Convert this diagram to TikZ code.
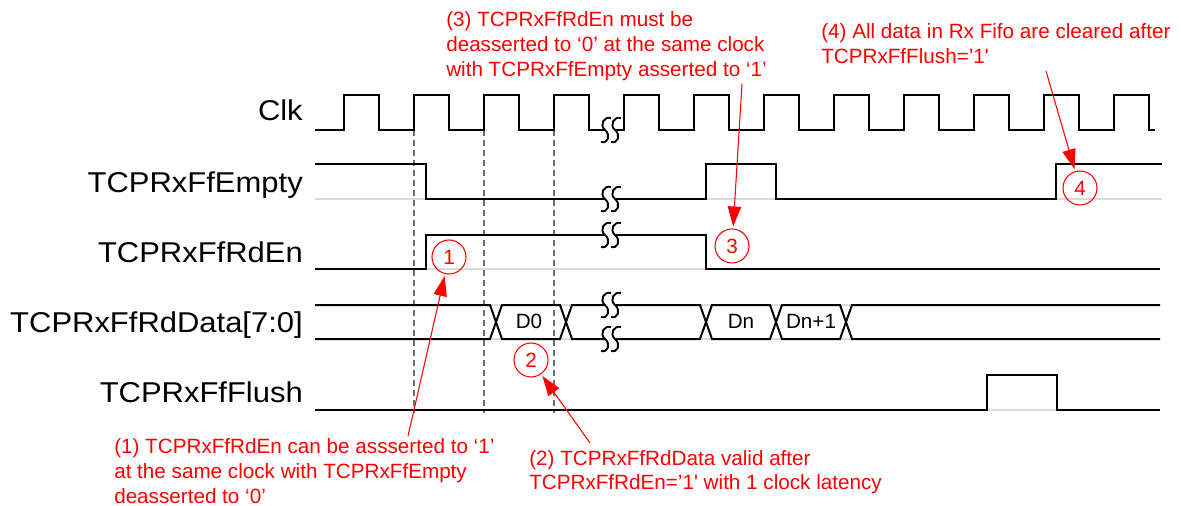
\documentclass[tikz,border=0pt]{standalone}
\usepackage{fontspec}
\setmainfont{Liberation Sans}
\newfontfamily\lblfont{Liberation Sans}[FakeStretch=1.08]
\usetikzlibrary{arrows.meta}
\definecolor{annred}{RGB}{255,0,0}
\definecolor{dashgray}{RGB}{110,110,110}
\tikzset{
  sig/.style={line width=1.5pt, black, line join=miter},
  guide/.style={line width=0.9pt, black!14},
  vdash/.style={line width=1.2pt, dashgray, dash pattern=on 4.5pt off 3pt},
  lbl/.style={anchor=base east, inner sep=0pt, font=\lblfont\fontsize{21.5}{26}\selectfont},
  note/.style={anchor=base west, inner sep=0pt, align=left, text=annred, font=\fontsize{15.5}{18.75}\selectfont},
  numcirc/.style={circle, draw=annred, line width=0.8pt, minimum size=25.5pt, inner sep=0pt, text=annred, font=\fontsize{15.5}{18}\selectfont},
  busval/.style={anchor=base, inner sep=0pt, font=\fontsize{15.5}{18}\selectfont},
  callout/.style={annred, line width=0.8pt, -{Triangle[length=15pt,width=10pt]}, shorten >=1.5pt},
  brk/.pic={
    \fill[white] (-5,-13) rectangle (5,13);
    \draw[line width=1.4pt] (1,-12) .. controls (-6,-14) and (-11,-5) .. (-5,0) .. controls (1,5) and (-2,14) .. (-9,12);
    \draw[line width=1.4pt] (11,-12) .. controls (4,-14) and (-1,-5) .. (5,0) .. controls (11,5) and (8,14) .. (1,12);
  }
}
\begin{document}
\begin{tikzpicture}[x=0.75pt, y=-0.75pt]
\useasboundingbox (0,0) rectangle (1181,506);

% signal labels
\node[lbl] (lclk)   at (303,121) {Clk};
\node[lbl] (lempty) at (303,192) {TCPRxFfEmpty};
\node[lbl] (lrden)  at (303,262) {TCPRxFfRdEn};
\node[lbl] (ldata)  at (303,332) {TCPRxFfRdData[7:0]};
\node[lbl] (lflush) at (303,402) {TCPRxFfFlush};

% faint guide lines
\draw[guide] (315,199) -- (1162,199);
\draw[guide] (315,269) -- (1160,269);
\draw[guide] (315,305) -- (1160,305);
\draw[guide] (315,339) -- (1160,339);
\draw[guide] (315,410) -- (1160,410);

% dashed clock-edge markers
\foreach \xx in {414,484,554} { \draw[vdash] (\xx,130) -- (\xx,413); }

% Clk
\draw[sig] (315,130)
  foreach \r in {344,414,484,554,624,694,764,834,904,974,1044,1114} { -- (\r,130) -- (\r,95) -- (\r+35,95) -- (\r+35,130) }
  -- (1155,130);

% TCPRxFfEmpty
\draw[sig] (315,164) -- (426,164) -- (426,199) -- (706,199) -- (706,164) -- (776,164) -- (776,199)
  -- (1056,199) -- (1056,164) -- (1162,164);

% TCPRxFfRdEn
\draw[sig] (315,269) -- (426,269) -- (426,235) -- (706,235) -- (706,269) -- (1160,269);

% TCPRxFfRdData[7:0]
\draw[sig] (315,305) -- (490,305) -- (502,339) -- (560,339) -- (572,305) -- (700,305) -- (712,339)
  -- (770,339) -- (782,305) -- (840,305) -- (852,339) -- (1160,339);
\draw[sig] (315,339) -- (490,339) -- (502,305) -- (560,305) -- (572,339) -- (700,339) -- (712,305)
  -- (770,305) -- (782,339) -- (840,339) -- (852,305) -- (1160,305);
\node[busval] (d0)  at (529,328) {D0};
\node[busval] (dn)  at (741,328) {Dn};
\node[busval] (dn1) at (811,328) {Dn+1};

% TCPRxFfFlush
\draw[sig] (315,410) -- (987,410) -- (987,375) -- (1057,375) -- (1057,410) -- (1160,410);

% break marks
\pic at (610,130) {brk};
\pic at (610,199) {brk};
\pic at (610,235) {brk};
\pic at (610,305) {brk};
\pic at (610,339) {brk};

% numbered circles
\node[numcirc] (c1) at (449,257) {1};
\node[numcirc] (c2) at (531,360) {2};
\node[numcirc] (c3) at (732,246) {3};
\node[numcirc] (c4) at (1080,188) {4};

% annotations (anchor = baseline of the last line)
\node[note] (t1) at (114,503) {(1) TCPRxFfRdEn can be assserted to ‘1’\\at the same clock with TCPRxFfEmpty\\deasserted to ‘0’};
\node[note, font=\fontsize{15.5}{17.5}\selectfont] (t2) at (529,489) {(2) TCPRxFfRdData valid after\\TCPRxFfRdEn=’1\textquotesingle{} with 1 clock latency};
\node[note] (t3) at (446,77) {(3) TCPRxFfRdEn must be\\deasserted to ‘0’ at the same clock\\with TCPRxFfEmpty asserted to ‘1’};
\node[note] (t4) at (821,64) {(4) All data in Rx Fifo are cleared after\\TCPRxFfFlush=’1\textquotesingle};

% callout arrows
\coordinate (a1s) at (408,436);
\coordinate (a2s) at (590,443);
\coordinate (a3s) at (742,84);
\coordinate (a4s) at (1046,71);
\draw[callout] (a1s) -- (c1);
\draw[callout] (a2s) -- (c2);
\draw[callout] (a3s) -- (c3);
\draw[callout] (a4s) -- (c4);
\end{tikzpicture}
\end{document}
